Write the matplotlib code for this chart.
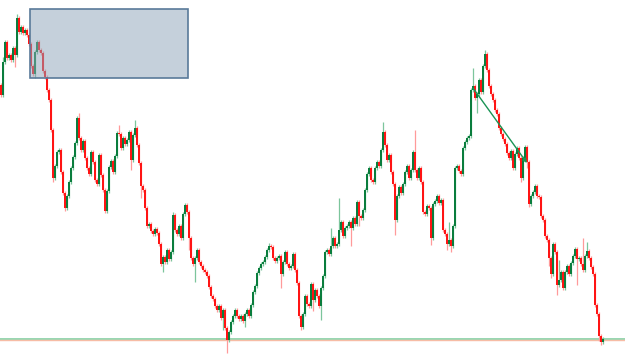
import matplotlib
matplotlib.use('Agg')
import matplotlib.pyplot as plt
from matplotlib.patches import Rectangle
import numpy as np

# price in pips above base level, one candle per bar
first_open = 275
closes = [
    265, 298, 318, 302, 305, 300, 312, 305, 342, 328, 333, 327, 330, 325, 316, 294, 286, 308, 318, 310,
    307, 289, 283, 270, 260, 230, 182, 194, 208, 210, 188, 167, 152, 164, 178, 192, 203, 217, 242, 222,
    210, 219, 202, 192, 186, 208, 198, 180, 176, 205,
    185, 170, 149, 169, 193, 199, 188, 204, 227, 226, 212, 222, 216, 220, 228, 200, 225, 232, 215, 197,
    174, 170, 152, 134, 136, 129, 126, 131, 127, 116, 96, 103, 98, 110, 101, 108, 145, 130, 126, 134,
    122, 146, 155, 148, 122, 102, 96, 102, 110, 98,
    94, 90, 88, 84, 73, 64, 61, 54, 50, 54, 42, 50, 32, 20, 28, 38, 44, 50, 44, 41,
    44, 39, 46, 50, 44, 55, 68, 74, 87, 92, 96, 98, 103, 110, 114, 113, 102, 99, 102, 104,
    86, 98, 108, 96, 92, 94, 106, 90, 77, 44,
    33, 46, 64, 56, 54, 76, 60, 70, 64, 54, 72, 84, 108, 110, 106, 114, 122, 114, 116, 130,
    138, 124, 132, 134, 138, 132, 142, 136, 158, 144, 142, 150, 170, 186, 192, 180, 178, 192, 198, 194,
    210, 228, 215, 200, 205, 188, 176, 140, 164, 173,
    167, 176, 188, 194, 182, 190, 208, 190, 182, 192, 178, 148, 146, 154, 152, 122, 156, 159, 164, 157,
    160, 130, 126, 116, 120, 114, 134, 192, 194, 189, 186, 212, 218, 222, 224, 270, 274, 262, 266, 280,
    268, 294, 306, 290, 274, 266, 260, 250, 246, 232,
    226, 221, 216, 207, 202, 209, 192, 206, 212, 202, 182, 202, 213, 198, 156, 164, 168, 174, 164, 163,
    144, 140, 124, 120, 102, 86, 116, 108, 75, 80, 88, 72, 88, 94, 86, 97, 104, 111, 101, 102,
    96, 90, 104, 109, 102, 93, 86, 55, 46, 24, 18, 21,
]
# wick lengths above / below the body (pips)
up_wick = [
    2, 5, 2, 2, 2, 2, 2, 2, 4, 2, 2, 2, 2, 2, 2, 2, 2, 2, 2, 2, 2, 2, 2, 2, 2, 2, 2, 2, 2, 2,
    2, 2, 2, 2, 2, 2, 2, 2, 2, 5, 2, 2, 2, 2, 2, 2, 2, 2, 2, 2,
    2, 2, 2, 2, 2, 2, 2, 2, 2, 8, 2, 2, 2, 2, 2, 2, 2, 8, 2, 2, 2, 2, 2, 2, 2, 2, 2, 2, 2, 2,
    2, 2, 2, 2, 2, 2, 3, 2, 2, 2, 2, 2, 2, 2, 2, 2, 2, 2, 2, 2,
    2, 2, 2, 2, 2, 2, 2, 2, 2, 2, 2, 2, 2, 2, 2, 2, 2, 2, 2, 2, 2, 2, 2, 2, 2, 2, 2, 2, 2, 2,
    2, 2, 2, 2, 3, 2, 2, 2, 2, 2, 2, 2, 2, 2, 2, 2, 2, 2, 2, 2,
    2, 2, 2, 2, 2, 2, 2, 2, 2, 2, 2, 2, 2, 2, 2, 18, 2, 2, 2, 32, 2, 2, 2, 2, 2, 2, 2, 2, 2, 2,
    2, 2, 2, 2, 2, 2, 2, 2, 2, 2, 2, 10, 2, 2, 2, 2, 2, 2, 2, 2,
    2, 2, 2, 2, 2, 2, 2, 22, 2, 2, 2, 2, 2, 2, 2, 2, 2, 2, 2, 2, 2, 2, 2, 2, 18, 2, 2, 2, 2, 2,
    2, 2, 2, 2, 2, 2, 18, 2, 2, 2, 2, 2, 4, 2, 2, 2, 2, 2, 2, 2,
    2, 2, 2, 2, 2, 2, 2, 2, 2, 2, 2, 2, 2, 2, 2, 2, 2, 2, 2, 2, 2, 2, 2, 2, 2, 2, 2, 2, 2, 20,
    2, 2, 2, 2, 2, 2, 2, 2, 2, 2, 2, 26, 2, 9, 2, 2, 2, 2, 2, 2, 2, 2,
]
down_wick = [
    2, 2, 2, 2, 2, 2, 2, 12, 2, 2, 2, 2, 2, 2, 2, 2, 2, 4, 2, 2, 2, 2, 2, 2, 2, 2, 4, 2, 2, 2,
    2, 2, 3, 2, 2, 2, 2, 2, 2, 2, 2, 2, 2, 2, 2, 2, 2, 2, 2, 2,
    2, 2, 2, 2, 2, 2, 2, 2, 2, 2, 2, 2, 2, 2, 2, 10, 2, 2, 2, 2, 12, 2, 2, 2, 2, 2, 2, 2, 2, 2,
    2, 8, 2, 2, 2, 2, 2, 2, 2, 2, 2, 2, 2, 2, 12, 2, 2, 18, 2, 2,
    2, 2, 2, 2, 2, 2, 2, 2, 2, 2, 2, 12, 2, 13, 2, 2, 2, 2, 2, 2, 2, 2, 6, 2, 2, 2, 2, 2, 2, 2,
    2, 2, 2, 2, 2, 2, 2, 2, 2, 2, 14, 2, 2, 2, 2, 2, 2, 2, 2, 2,
    3, 2, 2, 2, 2, 2, 11, 2, 2, 2, 14, 2, 2, 2, 2, 2, 2, 2, 2, 2, 2, 2, 2, 2, 2, 18, 2, 2, 2, 10,
    2, 2, 2, 2, 2, 2, 2, 2, 2, 2, 2, 2, 2, 2, 2, 2, 2, 15, 2, 2,
    2, 2, 2, 2, 2, 2, 2, 2, 2, 2, 2, 2, 2, 2, 2, 7, 2, 2, 2, 2, 2, 2, 2, 6, 2, 6, 2, 2, 2, 2,
    2, 2, 2, 2, 2, 2, 2, 2, 15, 2, 2, 2, 2, 2, 2, 2, 2, 2, 2, 2,
    2, 2, 2, 2, 2, 2, 2, 2, 2, 2, 4, 2, 2, 6, 3, 2, 2, 2, 2, 2, 2, 2, 2, 2, 8, 4, 2, 2, 10, 2,
    2, 2, 2, 2, 2, 2, 2, 2, 26, 2, 2, 2, 2, 2, 2, 2, 2, 2, 2, 5, 3, 2,
]

# drawings on the chart
zone_candles = (14.5, 93.5)      # shaded box, candle span
zone_prices = (282, 351)
support_level = 21.5
support_level_2 = 20
trend_from = (236, 272)          # (candle, price)
trend_to = (263, 197)

green = '#0a7d3d'
red = '#ff1414'
green_wick = '#7cc59c'
red_wick = '#ff9a9a'

o = np.array([first_open] + closes[:-1], dtype=float)
c = np.array(closes, dtype=float)
x = np.arange(len(c))
hi = np.maximum(o, c) + np.array(up_wick)
lo = np.minimum(o, c) - np.array(down_wick)
rising = c >= o
body = np.maximum(np.abs(c - o), 1.2)
bottom = np.minimum(o, c)

fig = plt.figure(figsize=(6.25, 3.57), dpi=100)
ax = fig.add_axes([0, 0, 1, 1])

# horizontal support lines
ax.axhline(support_level, color='#8fd3aa', lw=1.3, zorder=1)
ax.axhline(support_level_2, color='#f7bca5', lw=1.0, zorder=1)

# candles
ax.vlines(x[rising], lo[rising], hi[rising], color=green_wick, lw=0.9, zorder=2)
ax.vlines(x[~rising], lo[~rising], hi[~rising], color=red_wick, lw=0.9, zorder=2)
ax.bar(x[rising], body[rising], bottom=bottom[rising], width=0.8, color=green, linewidth=0, zorder=3)
ax.bar(x[~rising], body[~rising], bottom=bottom[~rising], width=0.8, color=red, linewidth=0, zorder=3)

# shaded zone
ax.add_patch(Rectangle((zone_candles[0], zone_prices[0]), zone_candles[1] - zone_candles[0],
                       zone_prices[1] - zone_prices[0], facecolor='#8ca3b8', alpha=0.5,
                       edgecolor='none', zorder=4))
ax.add_patch(Rectangle((zone_candles[0], zone_prices[0]), zone_candles[1] - zone_candles[0],
                       zone_prices[1] - zone_prices[0], facecolor='none',
                       edgecolor='#5a7a99', lw=1.2, zorder=5))

# trend line
ax.annotate('', xy=trend_to, xytext=trend_from,
            arrowprops=dict(arrowstyle='-|>', color='#1a9455', lw=1.0, mutation_scale=6,
                            shrinkA=0, shrinkB=0), zorder=6)

ax.set_xlim(-0.5, 312)
ax.set_ylim(3, 360)
ax.axis('off')
fig.savefig('out.png', dpi=100)
